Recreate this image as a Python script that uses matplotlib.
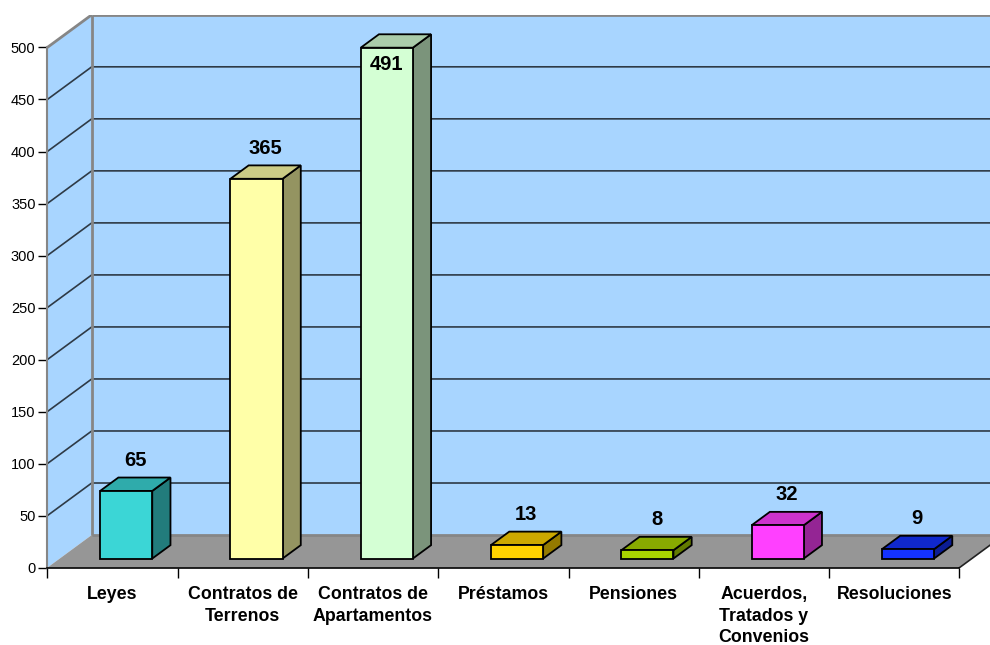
import matplotlib.pyplot as plt
from matplotlib.patches import Polygon
import matplotlib.colors as mcolors
import numpy as np

categorias = ['Leyes', 'Contratos de\nTerrenos', 'Contratos de\nApartamentos', 'Préstamos',
              'Pensiones', 'Acuerdos,\nTratados y\nConvenios', 'Resoluciones']
valores = [65, 365, 491, 13, 8, 32, 9]
colores = ['#3BD6D6', '#FFFFA8', '#D4FFD4', '#FFD200', '#AAD400', '#FF40FF', '#1432FF']
yticks = list(range(0, 501, 50))

plt.rcParams['font.family'] = ['Liberation Sans', 'DejaVu Sans']

# desplazamiento oblicuo de la profundidad (unidades de categoria / de valor)
DX = 0.341
DY = 31.4
YMAX = 500


def proj(x, y, d):
    return (x + d * DX, y + d * DY)


def tono(c, f):
    r, g, b = mcolors.to_rgb(c)
    return (r * f, g * f, b * f)


fig = plt.figure(figsize=(9.9, 6.45), dpi=100)
ax = fig.add_axes([47.3 / 990, 77.3 / 645, 942.7 / 990, 552.9 / 645])
n = len(valores)
ax.set_xlim(0, 942.7 / 130.3)
ax.set_ylim(0, YMAX + DY)

pared = '#A8D5FF'
borde = '#868686'

# pared izquierda, pared del fondo y piso
ax.add_patch(Polygon([proj(0, 0, 0), proj(0, YMAX, 0), proj(0, YMAX, 1), proj(0, 0, 1)],
                     closed=True, fc=pared, ec='none', zorder=1))
ax.add_patch(Polygon([proj(0, 0, 1), proj(0, YMAX, 1), proj(n, YMAX, 1), proj(n, 0, 1)],
                     closed=True, fc=pared, ec='none', zorder=1))
ax.add_patch(Polygon([proj(0, 0, 0), proj(n, 0, 0), proj(n, 0, 1), proj(0, 0, 1)],
                     closed=True, fc='#969696', ec='none', zorder=1))

for v in yticks[1:-1]:
    a, b, c = proj(0, v, 0), proj(0, v, 1), proj(n, v, 1)
    ax.plot([a[0], b[0], c[0]], [a[1], b[1], c[1]], color='#2E3A46', lw=1.2, zorder=2)

# bordes de las paredes
for p, q in [((0, YMAX, 0), (0, YMAX, 1)), ((0, YMAX, 1), (n, YMAX, 1)),
             ((0, 0, 1), (0, YMAX, 1)), ((0, 0, 1), (n, 0, 1))]:
    a, b = proj(*p), proj(*q)
    ax.plot([a[0], b[0]], [a[1], b[1]], color=borde, lw=2, zorder=2, solid_capstyle='butt')
a, b = proj(n, 0, 0), proj(n, 0, 1)
ax.plot([a[0], b[0]], [a[1], b[1]], color='#222222', lw=1.2, zorder=2)

# barras
d0, d1 = 0.28, 0.69
ancho = 0.4
for i, (v, col) in enumerate(zip(valores, colores)):
    x0 = i + 0.51 - ancho / 2
    x1 = i + 0.51 + ancho / 2
    frente = [proj(x0, 0, d0), proj(x0, v, d0), proj(x1, v, d0), proj(x1, 0, d0)]
    arriba = [proj(x0, v, d0), proj(x0, v, d1), proj(x1, v, d1), proj(x1, v, d0)]
    lado = [proj(x1, 0, d0), proj(x1, v, d0), proj(x1, v, d1), proj(x1, 0, d1)]
    for pts, f in [(lado, 0.58), (arriba, 0.8), (frente, 1.0)]:
        ax.add_patch(Polygon(pts, closed=True, fc=tono(col, f), ec='black', lw=1.3,
                             joinstyle='miter', zorder=3))
    if v > 450:
        xt, yt = proj(i + 0.51, v, d0)
        ax.annotate(str(v), (xt, yt), xytext=(0, -12), textcoords='offset points',
                    ha='center', va='center', fontsize=14.5, fontweight='bold', zorder=4)
    else:
        xt, _ = proj(i + 0.51, v, (d0 + d1) / 2)
        _, yt = proj(i + 0.51, v, d0)
        ax.annotate(str(v), (xt, yt), xytext=(0, 22), textcoords='offset points',
                    ha='center', va='center', fontsize=14.5, fontweight='bold', zorder=4)

# ejes
for s in ['top', 'right']:
    ax.spines[s].set_visible(False)
ax.spines['left'].set_bounds(0, YMAX)
ax.spines['left'].set_color(borde)
ax.spines['left'].set_linewidth(1.5)
ax.spines['left'].set_zorder(2.5)
ax.spines['bottom'].set_bounds(0, n)
ax.spines['bottom'].set_color('black')
ax.spines['bottom'].set_linewidth(1.2)

ax.set_yticks(yticks)
ax.tick_params(axis='y', length=6.5, width=1, color='black', labelsize=10.5, pad=2)
ax.set_xticks(np.arange(n + 1))
ax.set_xticklabels([])
ax.set_xticks(np.arange(n) + 0.5, minor=True)
ax.set_xticklabels(categorias, minor=True, fontsize=12.8, fontweight='bold', linespacing=1.32)
ax.tick_params(axis='x', which='major', length=7, width=1, color='black')
ax.tick_params(axis='x', which='minor', length=0, pad=13.5)

fig.savefig('out.png', dpi=100)
